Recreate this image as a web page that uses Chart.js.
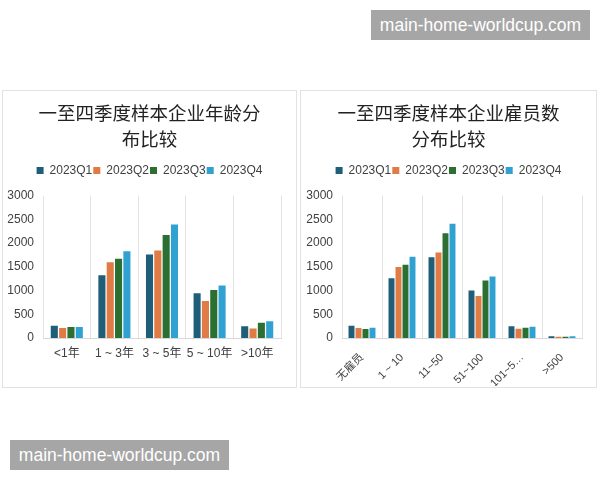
<!DOCTYPE html>
<html>
<head>
<meta charset="utf-8">
<script src="https://cdn.jsdelivr.net/npm/chart.js@4.4.1/dist/chart.umd.min.js"></script>
<style>
  html, body { margin: 0; padding: 0; background: #ffffff; }
  body { width: 600px; height: 480px; position: relative; overflow: hidden; }
  .panel { position: absolute; border: 1px solid #e2e2e2; box-sizing: border-box; background: #fff; }
  .wm { position: absolute; background: #a6a6a6; color: #ffffff; font-family: "Liberation Sans", Arial, sans-serif;
        font-size: 17.5px; line-height: 30px; height: 30px; text-align: center; }
</style>
</head>
<body>
<div class="wm" style="left:371px; top:10px; width:219px;">main-home-worldcup.com</div>
<div class="wm" style="left:10px; top:440px; width:219px;">main-home-worldcup.com</div>

<div class="panel" style="left:2px; top:90px; width:295px; height:298px;">
  <canvas id="c1" width="293" height="296"></canvas>
</div>
<div class="panel" style="left:300px; top:90px; width:297px; height:298px;">
  <canvas id="c2" width="295" height="296"></canvas>
</div>

<script>
// ---- Data ----
const seriesLabels = ['2023Q1', '2023Q2', '2023Q3', '2023Q4'];

const ageTitle = ['一至四季度样本企业年龄分', '布比较'];
const ageCategories = ['<1年', '1 ~ 3年', '3 ~ 5年', '5 ~ 10年', '>10年'];
const ageQ1 = [257, 1320, 1760, 940, 245];
const ageQ2 = [210, 1595, 1845, 780, 200];
const ageQ3 = [230, 1670, 2170, 1010, 320];
const ageQ4 = [230, 1825, 2390, 1105, 355];

const staffTitle = ['一至四季度样本企业雇员数', '分布比较'];
const staffCategories = ['无雇员', '1 ~ 10', '11~50', '51~100', '101~5…', '>500'];
const staffQ1 = [257, 1260, 1700, 1000, 250, 35];
const staffQ2 = [210, 1495, 1800, 885, 195, 28];
const staffQ3 = [190, 1540, 2205, 1210, 215, 28];
const staffQ4 = [215, 1710, 2405, 1295, 237, 35];

const yTicks = [0, 500, 1000, 1500, 2000, 2500, 3000];

// ---- Styles ----
const seriesColors = ['#1f5e78', '#e07b45', '#2b6f33', '#30a2d1'];
const FONT = '"Liberation Sans", Arial, "Noto Sans CJK SC", sans-serif';
const TXT = '#404040';

// extra space below the legend, and centre title/legend on the whole canvas
const layoutTweak = {
  id: 'layoutTweak',
  afterInit(chart) {
    const lg = chart.legend;
    if (!lg) return;
    const fit = lg.fit;
    lg.fit = function () { fit.call(this); this.height += 9; };
  },
  afterLayout(chart) {
    [chart.legend, chart.titleBlock].forEach(b => {
      if (!b) return;
      b.left = 0;
      b.right = chart.width;
      b.width = chart.width;
    });
  }
};

function makeChart(id, title, cats, series, opts) {
  const datasets = series.map((d, i) => ({
    label: seriesLabels[i],
    data: d,
    backgroundColor: seriesColors[i],
    borderWidth: 0,
    categoryPercentage: 0.7,
    barPercentage: 0.85
  }));
  return new Chart(document.getElementById(id), {
    type: 'bar',
    data: { labels: cats, datasets },
    plugins: [layoutTweak],
    options: {
      responsive: false,
      animation: false,
      devicePixelRatio: 1,
      layout: { padding: { left: 0, right: opts.rightPad, top: 0, bottom: 49 - opts.xHeight } },
      plugins: {
        tooltip: { enabled: false },
        title: {
          display: true,
          text: title,
          color: '#222222',
          font: { family: '"Noto Sans CJK SC", sans-serif', size: 18.5, weight: 'normal', lineHeight: 1.42 },
          padding: { top: 9, bottom: 11 }
        },
        legend: {
          display: true,
          position: 'top',
          labels: {
            color: TXT,
            boxWidth: 7,
            boxHeight: 7,
            padding: 1,
            font: { family: FONT, size: 12 }
          }
        }
      },
      scales: {
        x: {
          grid: { display: true, offset: true, color: '#e3e3e3', drawTicks: false },
          border: { display: true, color: '#d9d9d9' },
          ticks: {
            color: TXT,
            font: { family: FONT, size: opts.xFont },
            padding: opts.xPad,
            autoSkip: false,
            maxRotation: opts.rotate,
            minRotation: opts.rotate
          },
          afterFit: (s) => { s.height = opts.xHeight; }
        },
        y: {
          min: 0,
          max: 3000,
          grid: { display: false, drawTicks: false },
          border: { display: false },
          afterBuildTicks: (s) => { s.ticks = yTicks.map(v => ({ value: v })); },
          ticks: {
            color: TXT,
            font: { family: FONT, size: 12 },
            padding: 9,
            callback: (v) => String(v)
          },
          afterFit: (s) => { s.width = opts.yWidth; }
        }
      }
    }
  });
}

makeChart('c1', ageTitle, ageCategories, [ageQ1, ageQ2, ageQ3, ageQ4],
  { rotate: 0, yWidth: 40, rightPad: 15, xFont: 12, xPad: 8, xHeight: 40 });
makeChart('c2', staffTitle, staffCategories, [staffQ1, staffQ2, staffQ3, staffQ4],
  { rotate: 45, yWidth: 41, rightPad: 14, xFont: 11, xPad: 13, xHeight: 48 });
</script>
</body>
</html>
